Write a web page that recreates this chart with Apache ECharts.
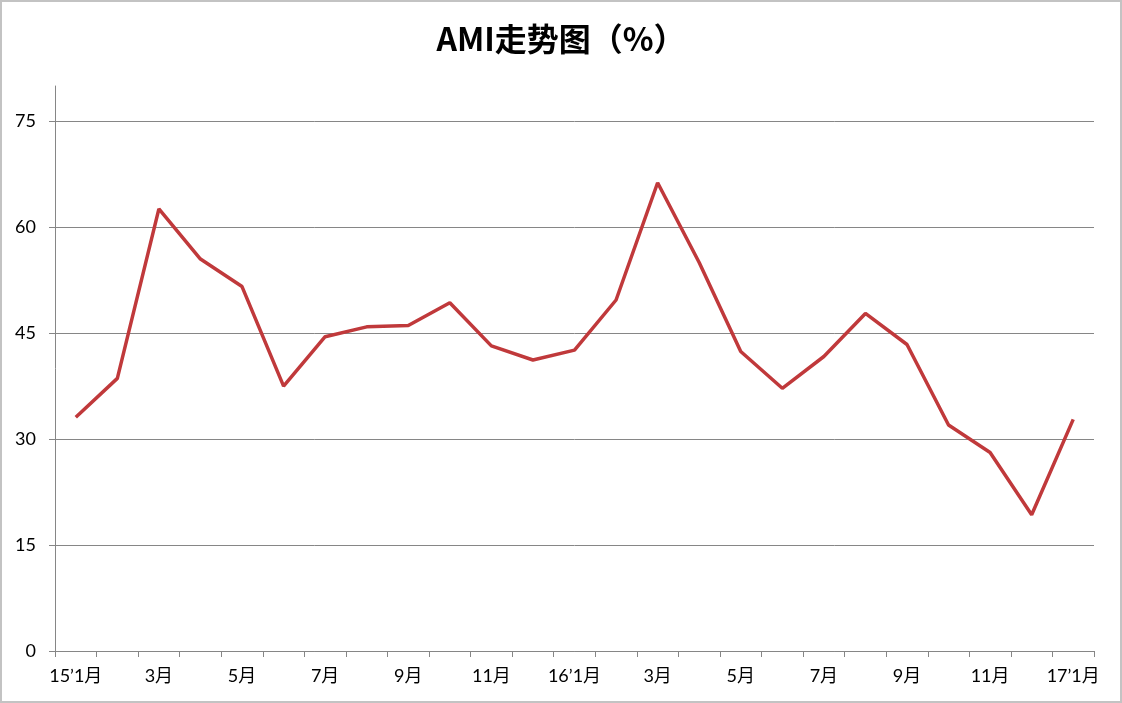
<!DOCTYPE html>
<html style="height: 100%">
<head>
    <meta charset="utf-8">
    <script src="https://cdn.jsdelivr.net/npm/echarts@6/dist/echarts.min.js"></script>
</head>
<body style="height: 100%; margin: 0">
<div id="container" style="position:absolute; left:0; top:0; width:1118px; height:699px; border:2px solid #c3c3c3; background:#fff"></div>
<script type="text/javascript">
    // month labels, 15'1月 .. 17'1月
    var months = ['15’1月', '2月', '3月', '4月', '5月', '6月', '7月', '8月', '9月', '10月', '11月', '12月',
        '16’1月', '2月', '3月', '4月', '5月', '6月', '7月', '8月', '9月', '10月', '11月', '12月',
        '17’1月'];
    // AMI values (%)
    var ami = [33.1, 38.6, 62.6, 55.5, 51.6, 37.5, 44.5, 45.9, 46.1, 49.3, 43.2, 41.2,
        42.6, 49.7, 66.3, 55.0, 42.4, 37.2, 41.7, 47.8, 43.4, 32.0, 28.1, 19.3,
        32.8];

    var font = "Lato, 'Noto Sans CJK SC', sans-serif";
    var dom = document.getElementById('container');
    var myChart = echarts.init(dom);

    var option = {
        backgroundColor: '#fff',
        animation: false,
        title: {
            text: 'AMI走势图（%）',
            left: 'center',
            top: 16,
            textStyle: {
                fontFamily: "'Noto Sans CJK SC', sans-serif",
                fontWeight: 'bold',
                fontSize: 32,
                color: '#000'
            }
        },
        grid: {
            left: 53,
            right: 26,
            top: 84,
            bottom: 50
        },
        xAxis: {
            type: 'category',
            data: months,
            boundaryGap: true,
            axisLine: {lineStyle: {color: '#868686', width: 1}},
            axisTick: {show: true, interval: 0, length: 6, lineStyle: {color: '#868686'}},
            axisLabel: {
                interval: 1,
                color: '#000',
                fontFamily: font,
                fontSize: 18,
                margin: 16
            },
            splitLine: {show: false}
        },
        yAxis: {
            type: 'value',
            min: 0,
            max: 80,
            interval: 15,
            axisLine: {show: true, lineStyle: {color: '#868686', width: 1}},
            axisTick: {show: true, length: 6, lineStyle: {color: '#868686'}},
            axisLabel: {
                showMaxLabel: false,
                color: '#000',
                fontFamily: font,
                fontSize: 18,
                margin: 19
            },
            splitLine: {show: true, showMaxLine: false, lineStyle: {color: '#868686', width: 1}}
        },
        series: [{
            type: 'line',
            data: ami,
            symbol: 'none',
            lineStyle: {color: '#C0393B', width: 3.5},
            itemStyle: {color: '#C0393B'}
        }]
    };

    myChart.setOption(option);
</script>
</body>
</html>
